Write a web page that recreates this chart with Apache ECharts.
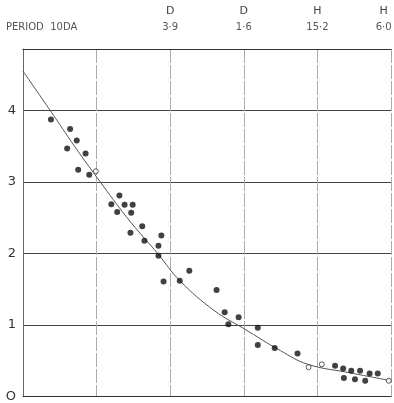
<!DOCTYPE html>
<html>
<head>
<meta charset="utf-8">
<script src="https://cdn.jsdelivr.net/npm/echarts@6/dist/echarts.min.js"></script>
<style>
  html, body { margin: 0; padding: 0; background: #fff; }
  #graph { width: 394px; height: 403px; }
</style>
</head>
<body>
<div id="graph"></div>
<script>
// filled dots [x, y]
const dots = [
  [0.38, 3.875], [0.64, 3.74], [0.73, 3.58], [0.60, 3.47], [0.85, 3.40],
  [0.75, 3.17], [0.90, 3.10],
  [1.31, 2.81], [1.20, 2.69], [1.38, 2.68], [1.49, 2.68], [1.28, 2.58],
  [1.47, 2.57], [1.62, 2.38], [1.46, 2.29], [1.88, 2.25], [1.65, 2.18],
  [1.84, 2.11], [1.84, 1.97], [2.26, 1.76], [1.91, 1.61], [2.13, 1.62],
  [2.63, 1.49], [2.74, 1.18], [2.79, 1.01], [2.93, 1.11], [3.19, 0.96],
  [3.19, 0.72], [3.42, 0.68], [3.73, 0.60],
  [4.24, 0.43], [4.35, 0.39], [4.46, 0.36], [4.58, 0.36], [4.71, 0.32],
  [4.82, 0.32], [4.36, 0.26], [4.51, 0.24], [4.65, 0.22]
];
// open circles
const openDots = [[0.99, 3.15], [3.88, 0.41], [4.06, 0.45], [4.97, 0.22]];
// fitted curve
const curve = [
  [0, 4.55], [0.37, 4.0], [0.7, 3.5], [1.05, 3.0], [1.4, 2.52], [1.66, 2.2],
  [1.83, 2.0], [2.13, 1.62], [2.6, 1.2], [3.0, 0.95], [3.5, 0.64],
  [3.87, 0.45], [4.45, 0.33], [5.0, 0.22]
];
const yLabels = { 0: 'O', 1: '1', 2: '2', 3: '3', 4: '4' };
const topPos = [2, 3, 4, 4.9];
const topLetters = ['D', 'D', 'H', 'H'];
const topNums = ['3·9', '1·6', '15·2', '6·0'];
const periodLabel = 'PERIOD  10DA';

const chart = echarts.init(document.getElementById('graph'));
chart.setOption({
  backgroundColor: '#fff',
  animation: false,
  grid: { left: 23, right: 3, top: 49, bottom: 4 },
  xAxis: [{
    type: 'value', min: 0, max: 5, interval: 1,
    axisLine: { lineStyle: { color: '#333', width: 1.2 } },
    axisTick: { show: false },
    axisLabel: { show: false },
    splitLine: { lineStyle: { color: '#aaa', width: 1, type: [14, 2] } }
  }, {
    type: 'value', min: 0, max: 5, position: 'top',
    axisLine: { show: true, onZero: false, lineStyle: { color: '#333', width: 1.2 } },
    axisTick: { show: false },
    axisLabel: { show: false },
    splitLine: { show: false }
  }],
  yAxis: {
    type: 'value', min: 0, max: 4.86, interval: 1,
    axisLine: { show: true, lineStyle: { color: '#666', width: 1 } },
    axisTick: { show: false },
    axisLabel: {
      margin: 7, color: '#333', fontSize: 13, fontFamily: 'DejaVu Sans',
      formatter: v => (yLabels[v] !== undefined ? yLabels[v] : '')
    },
    splitLine: { lineStyle: { color: '#444', width: 1.2 } }
  },
  series: [
    {
      type: 'line', data: curve, smooth: 0.4, showSymbol: false,
      lineStyle: { color: '#555', width: 1 }, z: 2
    },
    {
      type: 'scatter', data: dots, symbolSize: 6,
      itemStyle: { color: '#111' }, z: 3
    },
    {
      type: 'scatter', data: openDots, symbolSize: 5,
      itemStyle: { color: '#fff', borderColor: '#333', borderWidth: 1 }, z: 3
    }
  ]
});

// top period labels placed through the x scale
const graphics = [{
  type: 'text', left: 6, top: 22,
  style: { text: periodLabel, fill: '#555', font: '10px "DejaVu Sans"' }
}];
topPos.forEach((v, i) => {
  const px = chart.convertToPixel({ xAxisIndex: 0 }, v);
  graphics.push({
    type: 'text', x: px, y: 6,
    style: { text: topLetters[i], fill: '#444', font: '11px "DejaVu Sans"', align: 'center' }
  });
  graphics.push({
    type: 'text', x: px, y: 22,
    style: { text: topNums[i], fill: '#555', font: '10px "DejaVu Sans"', align: 'center' }
  });
});
chart.setOption({ graphic: graphics });
</script>
</body>
</html>
